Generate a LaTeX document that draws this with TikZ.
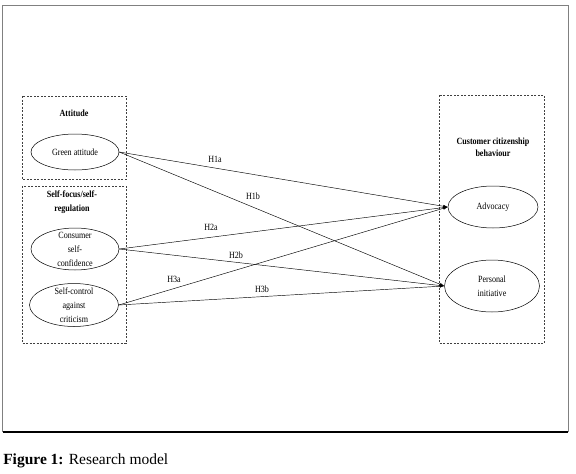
\documentclass[tikz,border=0pt]{standalone}
\usepackage{fontspec}
\setmainfont{Liberation Serif}
\newfontfamily\narrowfont[FakeStretch=0.85]{Liberation Serif}
\usetikzlibrary{shapes.geometric,arrows.meta}

\newcommand{\stacktext}[1]{\smash{\raisebox{-3pt}{\renewcommand{\arraystretch}{1.3}\begin{tabular}{@{}c@{}}#1\end{tabular}}}}

\begin{document}
\begin{tikzpicture}[x=1pt, y=-1pt, line width=0.5pt,
    grpbox/.style={draw=black!75, line width=0.4pt, dash pattern=on 2pt off 1.5pt},
    var/.style={draw, ellipse, inner sep=0pt, font=\narrowfont\fontsize{9.5}{10.5}\selectfont},
    head/.style={font=\narrowfont\bfseries\fontsize{9.5}{10.5}\selectfont},
    hyp/.style={font=\narrowfont\fontsize{9.5}{10.5}\selectfont},
    effect/.style={-{Latex[length=4.5pt,width=3pt]}, line width=0.45pt}]
    \useasboundingbox (0,0) rectangle (576,474);

    % 1. Outer frame and caption
    \draw[black!50, line width=0.8pt] (2.5,432) -- (2.5,5) -- (568,5) -- (568,432);
    \draw[line width=1.2pt] (2.5,432) -- (568,432);
    \node[anchor=west, font=\fontsize{15.5}{18}\selectfont, inner sep=0pt] (cap) at (3,461)
        {\textbf{Figure 1:} Research model};

    % 2. Dashed group boxes
    \draw[grpbox] (22,96) rectangle (126,179);
    \draw[grpbox] (22,186) rectangle (126,343);
    \draw[grpbox] (439,95) rectangle (544,343);

    % 3. Group headings
    \node[head] (att) at (74,113) {Attitude};
    \node[head] (sfr) at (72,201) {\stacktext{Self-focus/self-\\regulation}};
    \node[head] (ccb) at (493,148) {\renewcommand{\arraystretch}{1.1}\begin{tabular}{@{}c@{}}Customer citizenship\\behaviour\end{tabular}};

    % 4. Constructs
    \node[var, minimum width=88, minimum height=36] (ga) at (75,152) {Green attitude};
    \node[var, minimum width=88, minimum height=42] (cs) at (75,249) {\stacktext{Consumer\\self-\\confidence}};
    \node[var, minimum width=89, minimum height=43] (sc) at (74,305) {\stacktext{Self-control\\against\\criticism}};
    \node[var, minimum width=90, minimum height=42] (adv) at (493,207) {Advocacy};
    \node[var, minimum width=95, minimum height=52] (pi) at (492,286) {\stacktext{Personal\\initiative}};

    % 5. Hypothesised paths
    \draw[effect] (ga.east) -- (adv.west);
    \draw[effect] (ga.east) -- (pi.west);
    \draw[effect] (cs.east) -- (adv.west);
    \draw[effect] (cs.east) -- (pi.west);
    \draw[effect] (sc.east) -- (adv.west);
    \draw[effect] (sc.east) -- (pi.west);

    % 6. Path labels
    \node[hyp] (h1a) at (215,159) {H1a};
    \node[hyp] (h1b) at (253,196) {H1b};
    \node[hyp] (h2a) at (211,227) {H2a};
    \node[hyp] (h2b) at (236,255) {H2b};
    \node[hyp] (h3a) at (174,279) {H3a};
    \node[hyp] (h3b) at (262,289) {H3b};
\end{tikzpicture}
\end{document}
